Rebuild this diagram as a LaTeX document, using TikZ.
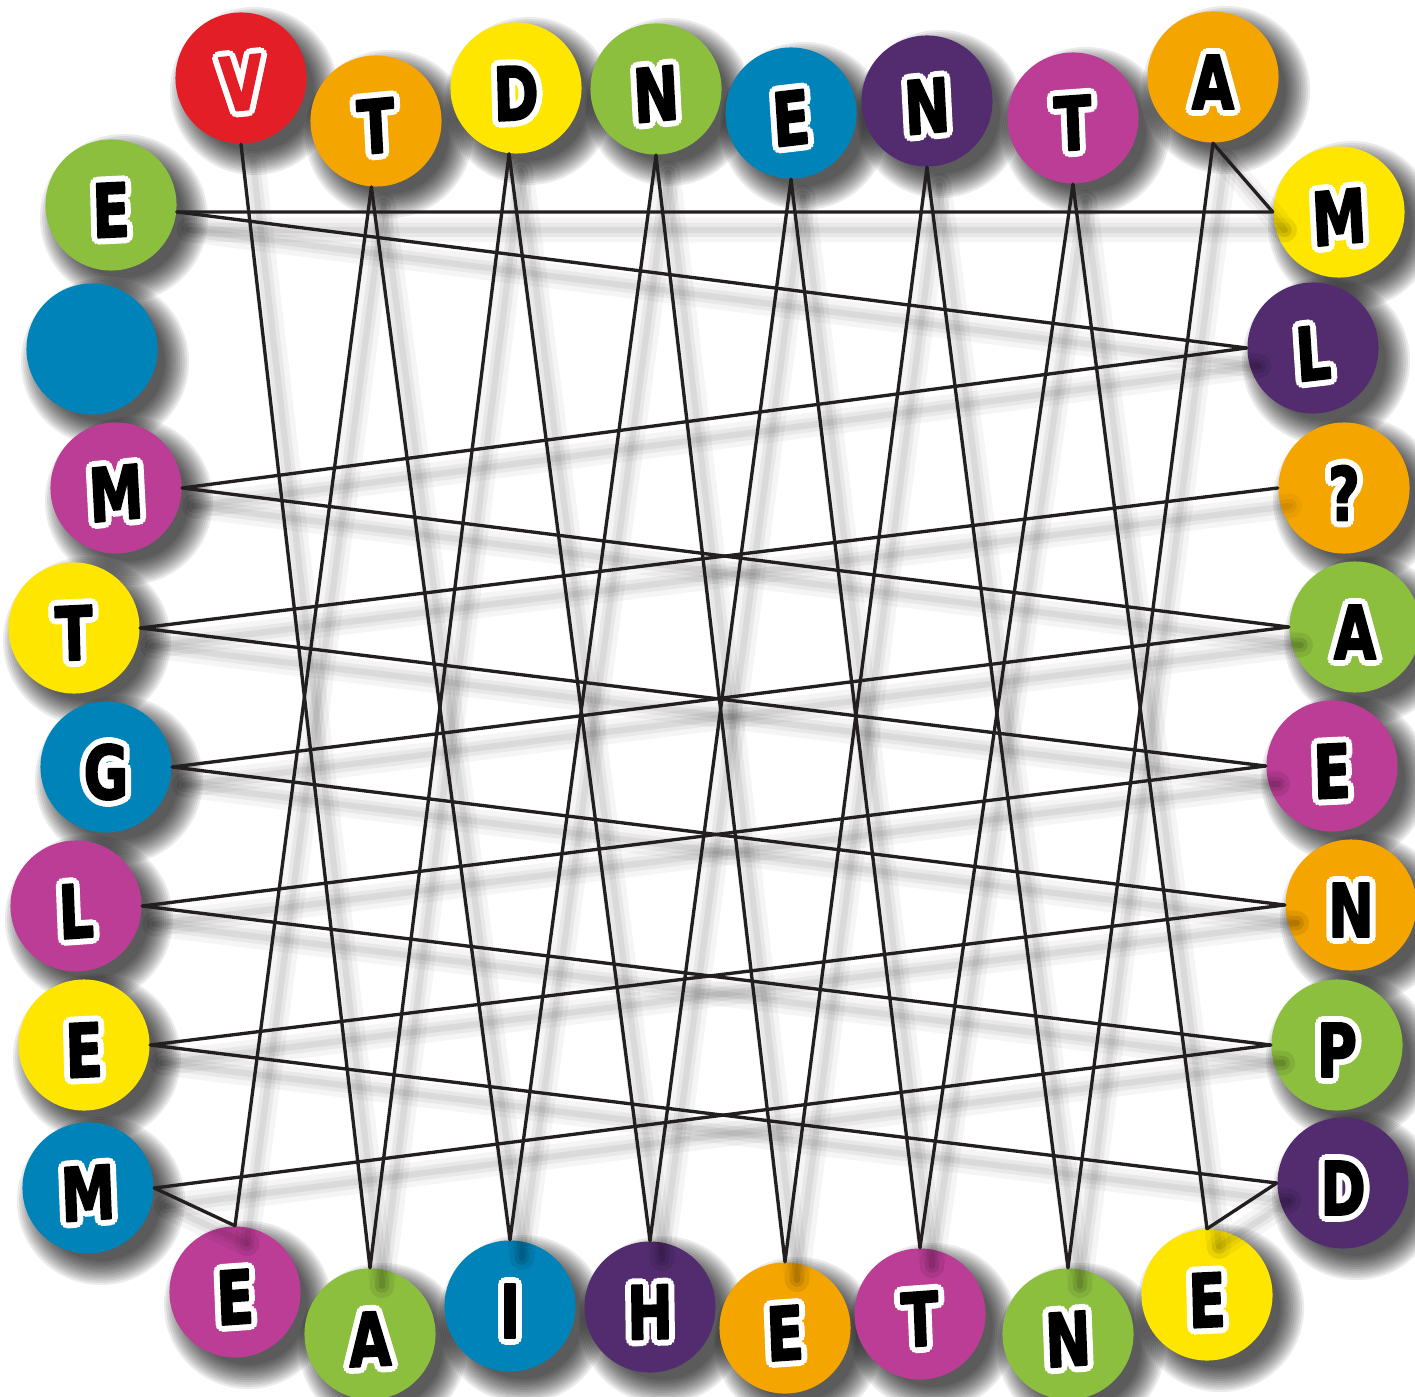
\documentclass[tikz,border=0pt]{standalone}
\usepackage{fontspec}
\newfontfamily\glyphfont{DejaVu Sans}
\usetikzlibrary{calc}

\definecolor{ballred}{HTML}{E31E26}
\definecolor{ballorange}{HTML}{F5A500}
\definecolor{ballyellow}{HTML}{FFE600}
\definecolor{ballgreen}{HTML}{8DBF3F}
\definecolor{ballblue}{HTML}{0083B8}
\definecolor{ballpurple}{HTML}{522C6F}
\definecolor{ballmagenta}{HTML}{BB3D96}
\definecolor{wireblack}{HTML}{231F20}

% fattened fill for the glyphs, then back to plain
\newcommand\fatton{\special{pdf:literal direct 2 Tr 1 j 0.6 w}}
\newcommand\plainoff{\special{pdf:literal direct 0 Tr}}

% name/x/y/colour of every ball, in pixels of the sheet
\newcommand\balllist{t1/241/78/ballred, t2/376/121/ballorange, t3/516/88/ballyellow,
  t4/656/89/ballgreen, t5/791/113/ballblue, t6/927/101/ballpurple, t7/1073/118/ballmagenta,
  t8/1213/77/ballorange, r1/1339/212/ballyellow, r2/1313/348/ballpurple, r3/1344/488/ballorange,
  r4/1355/627/ballgreen, r5/1332/766/ballmagenta, r6/1351/905/ballorange, r7/1337/1045/ballgreen,
  r8/1343/1183/ballpurple, b1/235/1292/ballmagenta, b2/370/1334/ballgreen, b3/510/1306/ballblue,
  b4/650/1307/ballpurple, b5/785/1328/ballorange, b6/920/1314/ballmagenta, b7/1068/1334/ballgreen,
  b8/1207/1295/ballyellow, l1/111/205/ballgreen, l2/92/349/ballblue, l3/116/488/ballmagenta,
  l4/74/628/ballyellow, l5/106/767/ballblue, l6/76/906/ballmagenta, l7/84/1045/ballyellow,
  l8/88/1188/ballblue}

% the string that runs from ball to ball
\newcommand\wirelist{t1.south/b2.north, b2.north/t3.-96, t3.-96/b4.north, b4.north/t5.south,
  t5.south/b6.north, b6.north/t7.south, t7.south/b8.north, b8.north/r8.west, r8.west/l7.east,
  l7.east/r6.west, r6.west/l5.east, l5.east/r4.west, r4.west/l3.east, l3.east/r2.west,
  r2.west/l1.-6, l1.-6/r1.west, r1.west/t8.south, t8.south/b7.north, b7.north/t6.south,
  t6.south/b5.north, b5.north/t4.south, t4.south/b3.north, b3.north/t2.-94, t2.-94/b1.north,
  b1.north/l8.east, l8.east/r7.west, r7.west/l6.east, l6.east/r5.west, r5.west/l4.east,
  l4.east/r3.west}

\begin{document}
\begin{tikzpicture}[x=.01cm, y=-.01cm, line cap=round, line join=round,
    ball/.style={circle, minimum size=1.31cm, inner sep=0pt},
    glyph/.style={font=\glyphfont\bfseries\fontsize{21}{21}\selectfont, inner sep=0pt, xscale=.74, yshift=-.05cm},
    wire/.style={draw=wireblack, line width=.95pt},
    wireshade/.style={draw=black, opacity=#1}]
  \fill[white] (0,0) rectangle (1415,1397);
  \useasboundingbox (0,0) rectangle (1415,1397);

  % Soft shadows, then the balls on top.
  \foreach \n/\x/\y/\c in \balllist
    \foreach \k in {0,...,11}
      \fill[black, opacity=.08] (\x+13,\y+13) circle[radius=.84cm-\k*.022cm];
  \foreach \n/\x/\y/\c in \balllist
    \node[ball, fill=\c] (\n) at (\x,\y) {};

  % Blurred shadow of the string, then the string.
  \foreach \a/\b in \wirelist {
    \draw[wireshade=.04, line width=7pt] ([shift={(12,18)}]\a) -- ([shift={(12,18)}]\b);
    \draw[wireshade=.05, line width=4pt] ([shift={(12,18)}]\a) -- ([shift={(12,18)}]\b);
    \draw[wireshade=.06, line width=1.8pt] ([shift={(12,18)}]\a) -- ([shift={(12,18)}]\b);
  }
  \foreach \a/\b in \wirelist
    \draw[wire] (\a) -- (\b);

  % Letters: white rim from shifted copies, fattened glyph on top.
  \foreach \n/\l/\r/\i in {t1/V/4/ballred, t2/T/4/black, t3/D/2/black, t4/N/4/black,
      t5/E/5/black, t6/N/4/black, t7/T/3/black, t8/A/0/black,
      r1/M/4/black, r2/L/5/black, r3/?/0/black, r4/A/0/black,
      r5/E/2/black, r6/N/0/black, r7/P/0/black, r8/D/0/black,
      b1/E/3/black, b2/A/2/black, b3/I/0/black, b4/H/1/black,
      b5/E/3/black, b6/T/3/black, b7/N/3/black, b8/E/2/black,
      l1/E/2/black, l3/M/4/black, l4/T/2/black, l5/G/0/black,
      l6/L/3/black, l7/E/2/black, l8/M/3/black}{
    \foreach \a in {0,30,...,330}
      \node[glyph, text=white, rotate=\r] at ([shift={(\a:1.7pt)}]\n.center) {\fatton\l\plainoff};
    \node[glyph, text=\i, rotate=\r] (\n-l) at (\n.center) {\fatton\l\plainoff};
  }
\end{tikzpicture}
\end{document}
